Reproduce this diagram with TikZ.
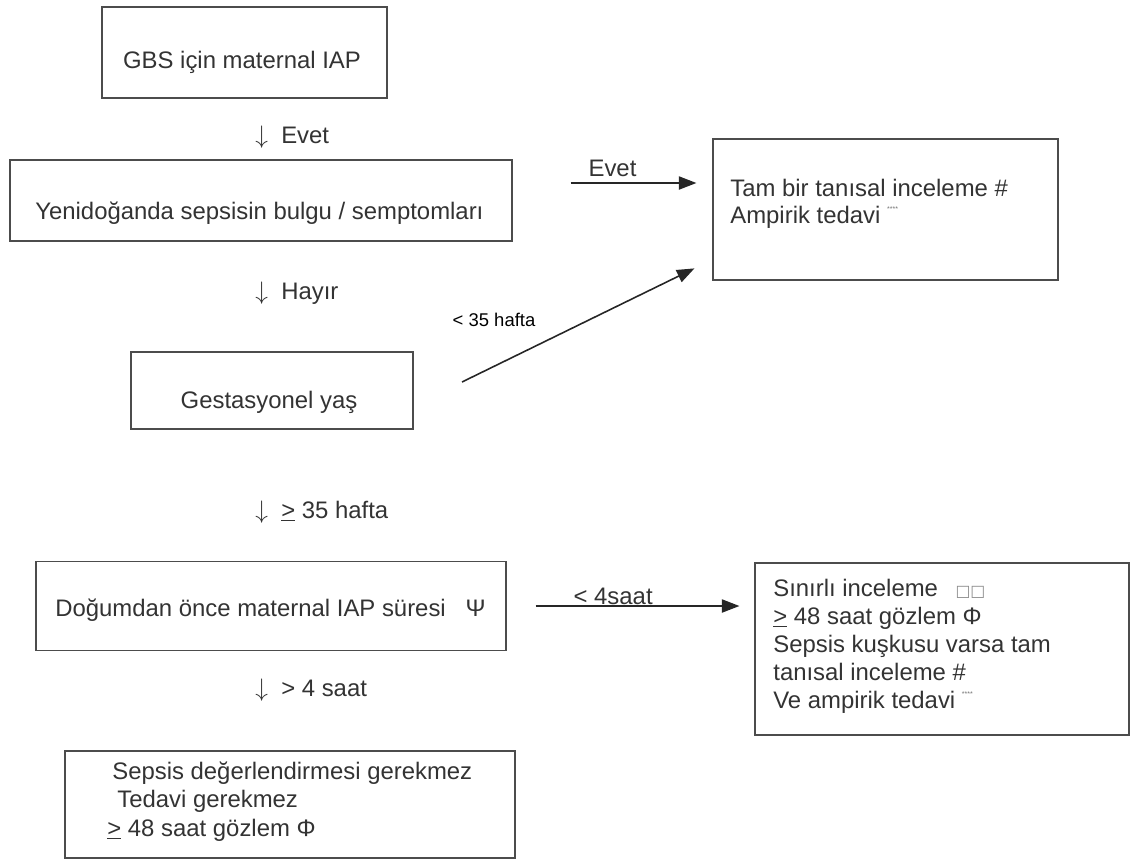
\documentclass[tikz,border=0pt]{standalone}
\usepackage{fontspec}
\setmainfont{Liberation Sans}
\newfontfamily\symfont{DejaVu Sans}
\usetikzlibrary{arrows.meta}

% underlined ">" as printed for "greater or equal"
\newcommand\gequ{\underline{>}}
% tiny footnote mark after "tedavi"
\newcommand\fnmark{\raisebox{0.9ex}{\fontsize{4}{4}\selectfont\color{black!55}****}}

\begin{document}
\begin{tikzpicture}[x=0.02cm, y=-0.02cm,
    box/.style={draw=black!70, line width=0.7pt, inner sep=0pt},
    txt/.style={inner sep=0pt, text=black!80, font=\fontsize{13.6}{15.9}\selectfont},
    lbl/.style={text=black!80, font=\fontsize{13.6}{15.9}\selectfont},
    arr/.style={draw=black!85, line width=0.9pt, -{Triangle[length=10pt,width=7.5pt]}}]

    % page size of the reference
    \useasboundingbox (0,0) rectangle (1131,862);

    % Boxes
    \node[box, minimum width=5.70cm, minimum height=1.82cm] (gbs)  at (244.5,52.5)  {};
    \node[box, minimum width=10.04cm, minimum height=1.62cm] (yeni) at (261,200.5) {};
    \node[box, minimum width=6.90cm, minimum height=2.82cm] (tam)  at (885.5,209.5) {};
    \node[box, minimum width=5.64cm, minimum height=1.54cm] (gest) at (272,390.5)   {};
    \node[box, minimum width=9.40cm, minimum height=1.78cm] (dog)  at (271,606)     {};
    \node[box, minimum width=7.48cm, minimum height=3.44cm] (sin)  at (942,649)     {};
    \node[box, minimum width=9.00cm, minimum height=2.14cm] (sep)  at (290,804.5)   {};

    % Texts in the boxes
    \node[txt] (gbs-t) at (242,62) {GBS için maternal IAP};
    \node[txt, anchor=west] (yeni-t) at (35,213) {Yenidoğanda sepsisin bulgu / semptomları};
    \node[txt, anchor=west, align=left, font=\fontsize{13.6}{15.3}\selectfont] (tam-t) at (730,203.5)
        {Tam bir tanısal inceleme \#\\Ampirik tedavi \fnmark};
    \node[txt] (gest-t) at (269,402) {Gestasyonel yaş};
    \node[txt, anchor=west] (dog-t) at (55,610) {Doğumdan önce maternal IAP süresi ~~Ψ};
    \node[txt, anchor=west, align=left] (sin-t) at (773,646)
        {Sınırlı inceleme\hspace{0.35cm}{\symfont\fontsize{9}{9}\selectfont\color{black!45}□□}\\
         \gequ{} 48 saat gözlem Φ\\
         Sepsis kuşkusu varsa tam\\
         tanısal inceleme \#\\
         Ve ampirik tedavi \fnmark};
    \node[txt, anchor=west, align=left, font=\fontsize{13.6}{16.2}\selectfont] (sep-t) at (107,801.5)
        {\hspace{0.1cm}Sepsis değerlendirmesi gerekmez\\
         \hspace{0.2cm}Tedavi gerekmez\\
         \gequ{} 48 saat gözlem Φ};

    % Downward steps (printed as arrow glyphs)
    \foreach \y/\t [count=\i] in {137/Evet, 293/Hayır, 512/{\gequ{} 35 hafta}, 690/{> 4 saat}}{
        \node[txt, anchor=west] (down\i) at (255,\y) {$\downarrow$\ \ \t};
      }

    % Side arrows
    \coordinate (evet-a) at ([yshift=0.35cm]yeni.east);
    \draw[arr, shorten <=1.16cm, shorten >=0.32cm] (evet-a) -- node[lbl, above, pos=0.5] (l-evet) {Evet} (evet-a -| tam.west);

    \coordinate (lt35-a) at (462,382);
    \draw[arr, shorten >=0.4cm] (lt35-a) -- ([yshift=0.42cm]tam.south west);
    \node[lbl, text=black, font=\fontsize{10.5}{12}\selectfont] (l-lt35) at (494,320) {< 35 hafta};

    \draw[arr, shorten <=0.58cm, shorten >=0.3cm] (dog.east) -- node[lbl, anchor=base, pos=0.43, yshift=1pt] (l-4s) {< 4saat} (dog.east -| sin.west);
  \end{tikzpicture}
\end{document}
